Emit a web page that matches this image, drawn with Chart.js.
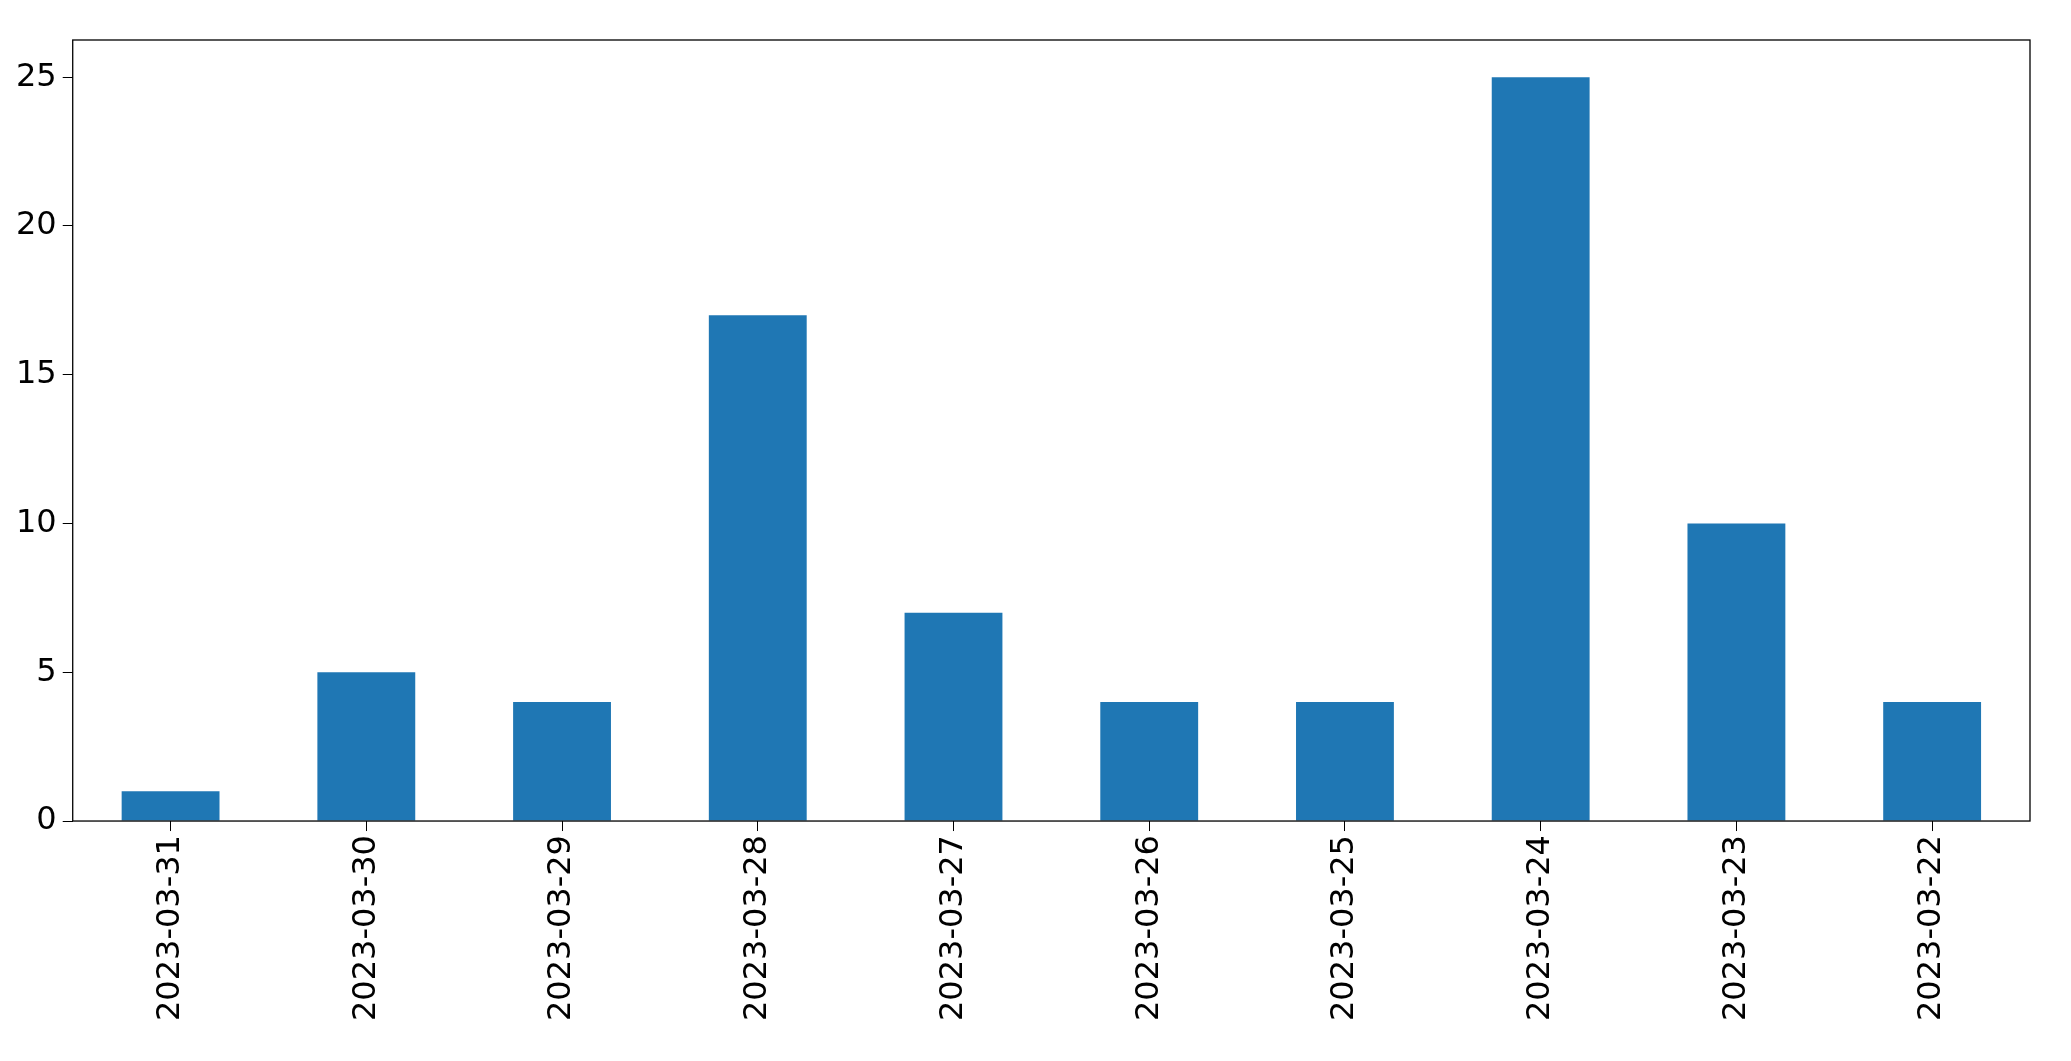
<!DOCTYPE html>
<html><head><meta charset="utf-8">
<script src="https://cdn.jsdelivr.net/npm/chart.js@4"></script>
<style>html,body{margin:0;padding:0;background:#fff}</style>
</head><body>
<canvas id="c" width="2071" height="1061"></canvas>
<script>
const categories = ["2023-03-31","2023-03-30","2023-03-29","2023-03-28","2023-03-27","2023-03-26","2023-03-25","2023-03-24","2023-03-23","2023-03-22"];
const values = [1,5,4,17,7,4,4,25,10,4];
const yTicks = [0,5,10,15,20,25];

const frame = {id:'frame',afterDraw(c){const a=c.chartArea,x=c.ctx;x.save();x.strokeStyle='#000';x.lineWidth=1.3;x.strokeRect(a.left,a.top,a.right-a.left,a.bottom-a.top);x.restore();}};
new Chart(document.getElementById('c'),{
  type:'bar',
  data:{labels:categories,datasets:[{data:values,backgroundColor:'#1f77b4',categoryPercentage:0.5,barPercentage:1}]},
  options:{
    responsive:false,animation:false,
    layout:{padding:{left:10,right:41,top:40,bottom:36}},
    plugins:{legend:{display:false},tooltip:{enabled:false}},
    scales:{
      x:{offset:true,grid:{display:true,drawOnChartArea:false,tickLength:10,color:'#000',offset:false},
         border:{display:false},
         ticks:{color:'#000',font:{family:'DejaVu Sans',size:32},maxRotation:90,minRotation:90,padding:4}},
      y:{min:0,max:26.25,afterBuildTicks(s){s.ticks=yTicks.map(v=>({value:v}));},
         grid:{display:true,drawOnChartArea:false,tickLength:10,color:'#000'},border:{display:false},
         ticks:{color:'#000',font:{family:'DejaVu Sans',size:32},padding:6}}
    }
  },
  plugins:[frame]
});
</script>
</body></html>
